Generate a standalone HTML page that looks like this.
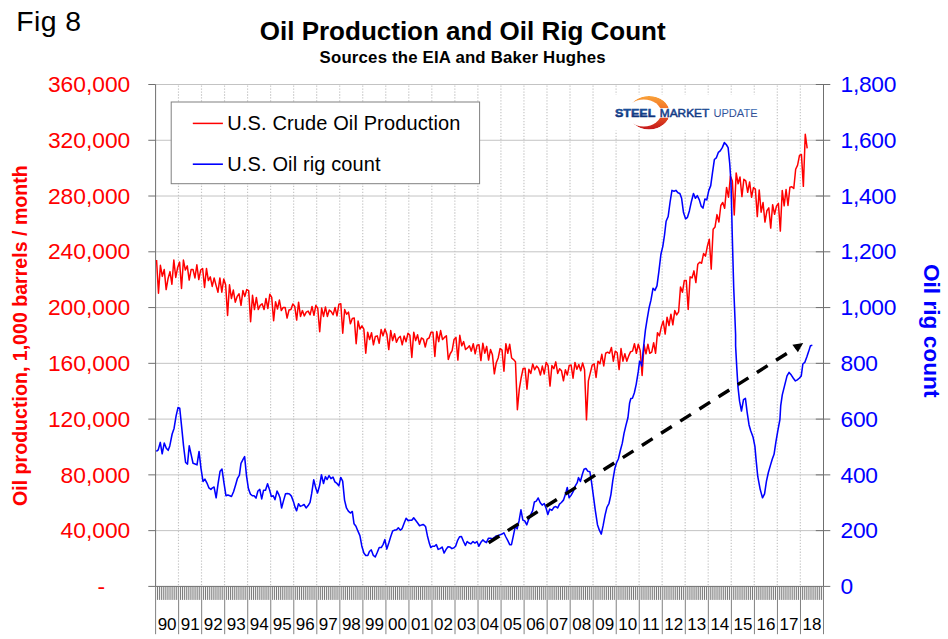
<!DOCTYPE html>
<html lang="en"><head><meta charset="utf-8"><title>Fig 8 - Oil Production and Oil Rig Count</title>
<style>
html,body{margin:0;padding:0;background:#fff;}
body{width:948px;height:639px;overflow:hidden;}
svg{display:block;}
text{font-family:"Liberation Sans",Arial,Helvetica,sans-serif;}
.b{font-weight:bold;}
</style></head><body>
<svg width="948" height="639" viewBox="0 0 948 639">
<defs>
<linearGradient id="og" x1="0" y1="0" x2="0" y2="1"><stop offset="0" stop-color="#f9a33a"/><stop offset="0.45" stop-color="#f26a22"/><stop offset="1" stop-color="#c4161c"/></linearGradient>
<linearGradient id="bg" x1="0" y1="0" x2="0" y2="1"><stop offset="0" stop-color="#1f63b5"/><stop offset="1" stop-color="#0a2466"/></linearGradient>
<mask id="cm" maskUnits="userSpaceOnUse" x="600" y="80" width="100" height="70"><rect x="600" y="80" width="100" height="70" fill="#000"/><ellipse cx="649" cy="112.7" rx="20.6" ry="16.8" fill="#fff"/><ellipse cx="643.66" cy="112.9" rx="17.48" ry="13.5" fill="#000"/><rect x="600" y="108.1" width="100" height="9.6" fill="#000"/></mask>
<linearGradient id="bg2" x1="0" y1="0" x2="0" y2="1"><stop offset="0" stop-color="#3f74bd"/><stop offset="1" stop-color="#24357c"/></linearGradient>
</defs>
<rect width="948" height="639" fill="#fff"/>

<g stroke="#c3c3c3" stroke-width="1" fill="none">
<line x1="155.6" y1="84.5" x2="823.5" y2="84.5"/>
<line x1="155.6" y1="140.27" x2="823.5" y2="140.27"/>
<line x1="155.6" y1="196.03" x2="823.5" y2="196.03"/>
<line x1="155.6" y1="251.8" x2="823.5" y2="251.8"/>
<line x1="155.6" y1="307.57" x2="823.5" y2="307.57"/>
<line x1="155.6" y1="363.33" x2="823.5" y2="363.33"/>
<line x1="155.6" y1="419.1" x2="823.5" y2="419.1"/>
<line x1="155.6" y1="474.87" x2="823.5" y2="474.87"/>
<line x1="155.6" y1="530.63" x2="823.5" y2="530.63"/>
</g>
<g stroke="#c4c4c4" stroke-width="1.15" stroke-dasharray="1.3 1.65" fill="none">
<line x1="178.48" y1="85.5" x2="178.48" y2="585.4"/>
<line x1="201.51" y1="85.5" x2="201.51" y2="585.4"/>
<line x1="224.54" y1="85.5" x2="224.54" y2="585.4"/>
<line x1="247.57" y1="85.5" x2="247.57" y2="585.4"/>
<line x1="270.61" y1="85.5" x2="270.61" y2="585.4"/>
<line x1="293.64" y1="85.5" x2="293.64" y2="585.4"/>
<line x1="316.67" y1="85.5" x2="316.67" y2="585.4"/>
<line x1="339.7" y1="85.5" x2="339.7" y2="585.4"/>
<line x1="362.73" y1="85.5" x2="362.73" y2="585.4"/>
<line x1="385.76" y1="85.5" x2="385.76" y2="585.4"/>
<line x1="408.79" y1="85.5" x2="408.79" y2="585.4"/>
<line x1="431.82" y1="85.5" x2="431.82" y2="585.4"/>
<line x1="454.85" y1="85.5" x2="454.85" y2="585.4"/>
<line x1="477.88" y1="85.5" x2="477.88" y2="585.4"/>
<line x1="500.92" y1="85.5" x2="500.92" y2="585.4"/>
<line x1="523.95" y1="85.5" x2="523.95" y2="585.4"/>
<line x1="546.98" y1="85.5" x2="546.98" y2="585.4"/>
<line x1="570.01" y1="85.5" x2="570.01" y2="585.4"/>
<line x1="593.04" y1="85.5" x2="593.04" y2="585.4"/>
<line x1="616.07" y1="85.5" x2="616.07" y2="585.4"/>
<line x1="639.1" y1="85.5" x2="639.1" y2="585.4"/>
<line x1="662.13" y1="85.5" x2="662.13" y2="585.4"/>
<line x1="685.16" y1="85.5" x2="685.16" y2="585.4"/>
<line x1="708.19" y1="85.5" x2="708.19" y2="585.4"/>
<line x1="731.23" y1="85.5" x2="731.23" y2="585.4"/>
<line x1="754.26" y1="85.5" x2="754.26" y2="585.4"/>
<line x1="777.29" y1="85.5" x2="777.29" y2="585.4"/>
<line x1="800.32" y1="85.5" x2="800.32" y2="585.4"/>
</g>
<rect x="611" y="94.5" width="152" height="36" fill="#fff"/>
<g stroke="#6f6f6f" stroke-width="1" fill="none">
<line x1="155.6" y1="84.5" x2="155.6" y2="586.4"/>
<line x1="823.5" y1="84.5" x2="823.5" y2="586.4"/>
<line x1="148.3" y1="586.4" x2="830.3" y2="586.4"/>
<line x1="148.3" y1="84.5" x2="155.6" y2="84.5"/>
<line x1="815.8" y1="84.5" x2="830.3" y2="84.5"/>
<line x1="148.3" y1="140.27" x2="155.6" y2="140.27"/>
<line x1="815.8" y1="140.27" x2="830.3" y2="140.27"/>
<line x1="148.3" y1="196.03" x2="155.6" y2="196.03"/>
<line x1="815.8" y1="196.03" x2="830.3" y2="196.03"/>
<line x1="148.3" y1="251.8" x2="155.6" y2="251.8"/>
<line x1="815.8" y1="251.8" x2="830.3" y2="251.8"/>
<line x1="148.3" y1="307.57" x2="155.6" y2="307.57"/>
<line x1="815.8" y1="307.57" x2="830.3" y2="307.57"/>
<line x1="148.3" y1="363.33" x2="155.6" y2="363.33"/>
<line x1="815.8" y1="363.33" x2="830.3" y2="363.33"/>
<line x1="148.3" y1="419.1" x2="155.6" y2="419.1"/>
<line x1="815.8" y1="419.1" x2="830.3" y2="419.1"/>
<line x1="148.3" y1="474.87" x2="155.6" y2="474.87"/>
<line x1="815.8" y1="474.87" x2="830.3" y2="474.87"/>
<line x1="148.3" y1="530.63" x2="155.6" y2="530.63"/>
<line x1="815.8" y1="530.63" x2="830.3" y2="530.63"/>
</g>
<g stroke="#737373" stroke-width="0.95" fill="none">
<line x1="157.52" y1="586.4" x2="157.52" y2="599.9"/>
<line x1="159.44" y1="586.4" x2="159.44" y2="599.9"/>
<line x1="161.36" y1="586.4" x2="161.36" y2="599.9"/>
<line x1="163.28" y1="586.4" x2="163.28" y2="599.9"/>
<line x1="165.2" y1="586.4" x2="165.2" y2="599.9"/>
<line x1="167.12" y1="586.4" x2="167.12" y2="599.9"/>
<line x1="169.03" y1="586.4" x2="169.03" y2="599.9"/>
<line x1="170.95" y1="586.4" x2="170.95" y2="599.9"/>
<line x1="172.87" y1="586.4" x2="172.87" y2="599.9"/>
<line x1="174.79" y1="586.4" x2="174.79" y2="599.9"/>
<line x1="176.71" y1="586.4" x2="176.71" y2="599.9"/>
<line x1="180.55" y1="586.4" x2="180.55" y2="599.9"/>
<line x1="182.47" y1="586.4" x2="182.47" y2="599.9"/>
<line x1="184.39" y1="586.4" x2="184.39" y2="599.9"/>
<line x1="186.31" y1="586.4" x2="186.31" y2="599.9"/>
<line x1="188.23" y1="586.4" x2="188.23" y2="599.9"/>
<line x1="190.15" y1="586.4" x2="190.15" y2="599.9"/>
<line x1="192.07" y1="586.4" x2="192.07" y2="599.9"/>
<line x1="193.99" y1="586.4" x2="193.99" y2="599.9"/>
<line x1="195.9" y1="586.4" x2="195.9" y2="599.9"/>
<line x1="197.82" y1="586.4" x2="197.82" y2="599.9"/>
<line x1="199.74" y1="586.4" x2="199.74" y2="599.9"/>
<line x1="203.58" y1="586.4" x2="203.58" y2="599.9"/>
<line x1="205.5" y1="586.4" x2="205.5" y2="599.9"/>
<line x1="207.42" y1="586.4" x2="207.42" y2="599.9"/>
<line x1="209.34" y1="586.4" x2="209.34" y2="599.9"/>
<line x1="211.26" y1="586.4" x2="211.26" y2="599.9"/>
<line x1="213.18" y1="586.4" x2="213.18" y2="599.9"/>
<line x1="215.1" y1="586.4" x2="215.1" y2="599.9"/>
<line x1="217.02" y1="586.4" x2="217.02" y2="599.9"/>
<line x1="218.94" y1="586.4" x2="218.94" y2="599.9"/>
<line x1="220.85" y1="586.4" x2="220.85" y2="599.9"/>
<line x1="222.77" y1="586.4" x2="222.77" y2="599.9"/>
<line x1="226.61" y1="586.4" x2="226.61" y2="599.9"/>
<line x1="228.53" y1="586.4" x2="228.53" y2="599.9"/>
<line x1="230.45" y1="586.4" x2="230.45" y2="599.9"/>
<line x1="232.37" y1="586.4" x2="232.37" y2="599.9"/>
<line x1="234.29" y1="586.4" x2="234.29" y2="599.9"/>
<line x1="236.21" y1="586.4" x2="236.21" y2="599.9"/>
<line x1="238.13" y1="586.4" x2="238.13" y2="599.9"/>
<line x1="240.05" y1="586.4" x2="240.05" y2="599.9"/>
<line x1="241.97" y1="586.4" x2="241.97" y2="599.9"/>
<line x1="243.89" y1="586.4" x2="243.89" y2="599.9"/>
<line x1="245.8" y1="586.4" x2="245.8" y2="599.9"/>
<line x1="249.64" y1="586.4" x2="249.64" y2="599.9"/>
<line x1="251.56" y1="586.4" x2="251.56" y2="599.9"/>
<line x1="253.48" y1="586.4" x2="253.48" y2="599.9"/>
<line x1="255.4" y1="586.4" x2="255.4" y2="599.9"/>
<line x1="257.32" y1="586.4" x2="257.32" y2="599.9"/>
<line x1="259.24" y1="586.4" x2="259.24" y2="599.9"/>
<line x1="261.16" y1="586.4" x2="261.16" y2="599.9"/>
<line x1="263.08" y1="586.4" x2="263.08" y2="599.9"/>
<line x1="265" y1="586.4" x2="265" y2="599.9"/>
<line x1="266.92" y1="586.4" x2="266.92" y2="599.9"/>
<line x1="268.84" y1="586.4" x2="268.84" y2="599.9"/>
<line x1="272.67" y1="586.4" x2="272.67" y2="599.9"/>
<line x1="274.59" y1="586.4" x2="274.59" y2="599.9"/>
<line x1="276.51" y1="586.4" x2="276.51" y2="599.9"/>
<line x1="278.43" y1="586.4" x2="278.43" y2="599.9"/>
<line x1="280.35" y1="586.4" x2="280.35" y2="599.9"/>
<line x1="282.27" y1="586.4" x2="282.27" y2="599.9"/>
<line x1="284.19" y1="586.4" x2="284.19" y2="599.9"/>
<line x1="286.11" y1="586.4" x2="286.11" y2="599.9"/>
<line x1="288.03" y1="586.4" x2="288.03" y2="599.9"/>
<line x1="289.95" y1="586.4" x2="289.95" y2="599.9"/>
<line x1="291.87" y1="586.4" x2="291.87" y2="599.9"/>
<line x1="295.71" y1="586.4" x2="295.71" y2="599.9"/>
<line x1="297.62" y1="586.4" x2="297.62" y2="599.9"/>
<line x1="299.54" y1="586.4" x2="299.54" y2="599.9"/>
<line x1="301.46" y1="586.4" x2="301.46" y2="599.9"/>
<line x1="303.38" y1="586.4" x2="303.38" y2="599.9"/>
<line x1="305.3" y1="586.4" x2="305.3" y2="599.9"/>
<line x1="307.22" y1="586.4" x2="307.22" y2="599.9"/>
<line x1="309.14" y1="586.4" x2="309.14" y2="599.9"/>
<line x1="311.06" y1="586.4" x2="311.06" y2="599.9"/>
<line x1="312.98" y1="586.4" x2="312.98" y2="599.9"/>
<line x1="314.9" y1="586.4" x2="314.9" y2="599.9"/>
<line x1="318.74" y1="586.4" x2="318.74" y2="599.9"/>
<line x1="320.66" y1="586.4" x2="320.66" y2="599.9"/>
<line x1="322.57" y1="586.4" x2="322.57" y2="599.9"/>
<line x1="324.49" y1="586.4" x2="324.49" y2="599.9"/>
<line x1="326.41" y1="586.4" x2="326.41" y2="599.9"/>
<line x1="328.33" y1="586.4" x2="328.33" y2="599.9"/>
<line x1="330.25" y1="586.4" x2="330.25" y2="599.9"/>
<line x1="332.17" y1="586.4" x2="332.17" y2="599.9"/>
<line x1="334.09" y1="586.4" x2="334.09" y2="599.9"/>
<line x1="336.01" y1="586.4" x2="336.01" y2="599.9"/>
<line x1="337.93" y1="586.4" x2="337.93" y2="599.9"/>
<line x1="341.77" y1="586.4" x2="341.77" y2="599.9"/>
<line x1="343.69" y1="586.4" x2="343.69" y2="599.9"/>
<line x1="345.61" y1="586.4" x2="345.61" y2="599.9"/>
<line x1="347.53" y1="586.4" x2="347.53" y2="599.9"/>
<line x1="349.44" y1="586.4" x2="349.44" y2="599.9"/>
<line x1="351.36" y1="586.4" x2="351.36" y2="599.9"/>
<line x1="353.28" y1="586.4" x2="353.28" y2="599.9"/>
<line x1="355.2" y1="586.4" x2="355.2" y2="599.9"/>
<line x1="357.12" y1="586.4" x2="357.12" y2="599.9"/>
<line x1="359.04" y1="586.4" x2="359.04" y2="599.9"/>
<line x1="360.96" y1="586.4" x2="360.96" y2="599.9"/>
<line x1="364.8" y1="586.4" x2="364.8" y2="599.9"/>
<line x1="366.72" y1="586.4" x2="366.72" y2="599.9"/>
<line x1="368.64" y1="586.4" x2="368.64" y2="599.9"/>
<line x1="370.56" y1="586.4" x2="370.56" y2="599.9"/>
<line x1="372.48" y1="586.4" x2="372.48" y2="599.9"/>
<line x1="374.39" y1="586.4" x2="374.39" y2="599.9"/>
<line x1="376.31" y1="586.4" x2="376.31" y2="599.9"/>
<line x1="378.23" y1="586.4" x2="378.23" y2="599.9"/>
<line x1="380.15" y1="586.4" x2="380.15" y2="599.9"/>
<line x1="382.07" y1="586.4" x2="382.07" y2="599.9"/>
<line x1="383.99" y1="586.4" x2="383.99" y2="599.9"/>
<line x1="387.83" y1="586.4" x2="387.83" y2="599.9"/>
<line x1="389.75" y1="586.4" x2="389.75" y2="599.9"/>
<line x1="391.67" y1="586.4" x2="391.67" y2="599.9"/>
<line x1="393.59" y1="586.4" x2="393.59" y2="599.9"/>
<line x1="395.51" y1="586.4" x2="395.51" y2="599.9"/>
<line x1="397.43" y1="586.4" x2="397.43" y2="599.9"/>
<line x1="399.35" y1="586.4" x2="399.35" y2="599.9"/>
<line x1="401.26" y1="586.4" x2="401.26" y2="599.9"/>
<line x1="403.18" y1="586.4" x2="403.18" y2="599.9"/>
<line x1="405.1" y1="586.4" x2="405.1" y2="599.9"/>
<line x1="407.02" y1="586.4" x2="407.02" y2="599.9"/>
<line x1="410.86" y1="586.4" x2="410.86" y2="599.9"/>
<line x1="412.78" y1="586.4" x2="412.78" y2="599.9"/>
<line x1="414.7" y1="586.4" x2="414.7" y2="599.9"/>
<line x1="416.62" y1="586.4" x2="416.62" y2="599.9"/>
<line x1="418.54" y1="586.4" x2="418.54" y2="599.9"/>
<line x1="420.46" y1="586.4" x2="420.46" y2="599.9"/>
<line x1="422.38" y1="586.4" x2="422.38" y2="599.9"/>
<line x1="424.3" y1="586.4" x2="424.3" y2="599.9"/>
<line x1="426.21" y1="586.4" x2="426.21" y2="599.9"/>
<line x1="428.13" y1="586.4" x2="428.13" y2="599.9"/>
<line x1="430.05" y1="586.4" x2="430.05" y2="599.9"/>
<line x1="433.89" y1="586.4" x2="433.89" y2="599.9"/>
<line x1="435.81" y1="586.4" x2="435.81" y2="599.9"/>
<line x1="437.73" y1="586.4" x2="437.73" y2="599.9"/>
<line x1="439.65" y1="586.4" x2="439.65" y2="599.9"/>
<line x1="441.57" y1="586.4" x2="441.57" y2="599.9"/>
<line x1="443.49" y1="586.4" x2="443.49" y2="599.9"/>
<line x1="445.41" y1="586.4" x2="445.41" y2="599.9"/>
<line x1="447.33" y1="586.4" x2="447.33" y2="599.9"/>
<line x1="449.25" y1="586.4" x2="449.25" y2="599.9"/>
<line x1="451.16" y1="586.4" x2="451.16" y2="599.9"/>
<line x1="453.08" y1="586.4" x2="453.08" y2="599.9"/>
<line x1="456.92" y1="586.4" x2="456.92" y2="599.9"/>
<line x1="458.84" y1="586.4" x2="458.84" y2="599.9"/>
<line x1="460.76" y1="586.4" x2="460.76" y2="599.9"/>
<line x1="462.68" y1="586.4" x2="462.68" y2="599.9"/>
<line x1="464.6" y1="586.4" x2="464.6" y2="599.9"/>
<line x1="466.52" y1="586.4" x2="466.52" y2="599.9"/>
<line x1="468.44" y1="586.4" x2="468.44" y2="599.9"/>
<line x1="470.36" y1="586.4" x2="470.36" y2="599.9"/>
<line x1="472.28" y1="586.4" x2="472.28" y2="599.9"/>
<line x1="474.2" y1="586.4" x2="474.2" y2="599.9"/>
<line x1="476.12" y1="586.4" x2="476.12" y2="599.9"/>
<line x1="479.95" y1="586.4" x2="479.95" y2="599.9"/>
<line x1="481.87" y1="586.4" x2="481.87" y2="599.9"/>
<line x1="483.79" y1="586.4" x2="483.79" y2="599.9"/>
<line x1="485.71" y1="586.4" x2="485.71" y2="599.9"/>
<line x1="487.63" y1="586.4" x2="487.63" y2="599.9"/>
<line x1="489.55" y1="586.4" x2="489.55" y2="599.9"/>
<line x1="491.47" y1="586.4" x2="491.47" y2="599.9"/>
<line x1="493.39" y1="586.4" x2="493.39" y2="599.9"/>
<line x1="495.31" y1="586.4" x2="495.31" y2="599.9"/>
<line x1="497.23" y1="586.4" x2="497.23" y2="599.9"/>
<line x1="499.15" y1="586.4" x2="499.15" y2="599.9"/>
<line x1="502.98" y1="586.4" x2="502.98" y2="599.9"/>
<line x1="504.9" y1="586.4" x2="504.9" y2="599.9"/>
<line x1="506.82" y1="586.4" x2="506.82" y2="599.9"/>
<line x1="508.74" y1="586.4" x2="508.74" y2="599.9"/>
<line x1="510.66" y1="586.4" x2="510.66" y2="599.9"/>
<line x1="512.58" y1="586.4" x2="512.58" y2="599.9"/>
<line x1="514.5" y1="586.4" x2="514.5" y2="599.9"/>
<line x1="516.42" y1="586.4" x2="516.42" y2="599.9"/>
<line x1="518.34" y1="586.4" x2="518.34" y2="599.9"/>
<line x1="520.26" y1="586.4" x2="520.26" y2="599.9"/>
<line x1="522.18" y1="586.4" x2="522.18" y2="599.9"/>
<line x1="526.02" y1="586.4" x2="526.02" y2="599.9"/>
<line x1="527.94" y1="586.4" x2="527.94" y2="599.9"/>
<line x1="529.85" y1="586.4" x2="529.85" y2="599.9"/>
<line x1="531.77" y1="586.4" x2="531.77" y2="599.9"/>
<line x1="533.69" y1="586.4" x2="533.69" y2="599.9"/>
<line x1="535.61" y1="586.4" x2="535.61" y2="599.9"/>
<line x1="537.53" y1="586.4" x2="537.53" y2="599.9"/>
<line x1="539.45" y1="586.4" x2="539.45" y2="599.9"/>
<line x1="541.37" y1="586.4" x2="541.37" y2="599.9"/>
<line x1="543.29" y1="586.4" x2="543.29" y2="599.9"/>
<line x1="545.21" y1="586.4" x2="545.21" y2="599.9"/>
<line x1="549.05" y1="586.4" x2="549.05" y2="599.9"/>
<line x1="550.97" y1="586.4" x2="550.97" y2="599.9"/>
<line x1="552.89" y1="586.4" x2="552.89" y2="599.9"/>
<line x1="554.8" y1="586.4" x2="554.8" y2="599.9"/>
<line x1="556.72" y1="586.4" x2="556.72" y2="599.9"/>
<line x1="558.64" y1="586.4" x2="558.64" y2="599.9"/>
<line x1="560.56" y1="586.4" x2="560.56" y2="599.9"/>
<line x1="562.48" y1="586.4" x2="562.48" y2="599.9"/>
<line x1="564.4" y1="586.4" x2="564.4" y2="599.9"/>
<line x1="566.32" y1="586.4" x2="566.32" y2="599.9"/>
<line x1="568.24" y1="586.4" x2="568.24" y2="599.9"/>
<line x1="572.08" y1="586.4" x2="572.08" y2="599.9"/>
<line x1="574" y1="586.4" x2="574" y2="599.9"/>
<line x1="575.92" y1="586.4" x2="575.92" y2="599.9"/>
<line x1="577.84" y1="586.4" x2="577.84" y2="599.9"/>
<line x1="579.75" y1="586.4" x2="579.75" y2="599.9"/>
<line x1="581.67" y1="586.4" x2="581.67" y2="599.9"/>
<line x1="583.59" y1="586.4" x2="583.59" y2="599.9"/>
<line x1="585.51" y1="586.4" x2="585.51" y2="599.9"/>
<line x1="587.43" y1="586.4" x2="587.43" y2="599.9"/>
<line x1="589.35" y1="586.4" x2="589.35" y2="599.9"/>
<line x1="591.27" y1="586.4" x2="591.27" y2="599.9"/>
<line x1="595.11" y1="586.4" x2="595.11" y2="599.9"/>
<line x1="597.03" y1="586.4" x2="597.03" y2="599.9"/>
<line x1="598.95" y1="586.4" x2="598.95" y2="599.9"/>
<line x1="600.87" y1="586.4" x2="600.87" y2="599.9"/>
<line x1="602.79" y1="586.4" x2="602.79" y2="599.9"/>
<line x1="604.71" y1="586.4" x2="604.71" y2="599.9"/>
<line x1="606.62" y1="586.4" x2="606.62" y2="599.9"/>
<line x1="608.54" y1="586.4" x2="608.54" y2="599.9"/>
<line x1="610.46" y1="586.4" x2="610.46" y2="599.9"/>
<line x1="612.38" y1="586.4" x2="612.38" y2="599.9"/>
<line x1="614.3" y1="586.4" x2="614.3" y2="599.9"/>
<line x1="618.14" y1="586.4" x2="618.14" y2="599.9"/>
<line x1="620.06" y1="586.4" x2="620.06" y2="599.9"/>
<line x1="621.98" y1="586.4" x2="621.98" y2="599.9"/>
<line x1="623.9" y1="586.4" x2="623.9" y2="599.9"/>
<line x1="625.82" y1="586.4" x2="625.82" y2="599.9"/>
<line x1="627.74" y1="586.4" x2="627.74" y2="599.9"/>
<line x1="629.66" y1="586.4" x2="629.66" y2="599.9"/>
<line x1="631.57" y1="586.4" x2="631.57" y2="599.9"/>
<line x1="633.49" y1="586.4" x2="633.49" y2="599.9"/>
<line x1="635.41" y1="586.4" x2="635.41" y2="599.9"/>
<line x1="637.33" y1="586.4" x2="637.33" y2="599.9"/>
<line x1="641.17" y1="586.4" x2="641.17" y2="599.9"/>
<line x1="643.09" y1="586.4" x2="643.09" y2="599.9"/>
<line x1="645.01" y1="586.4" x2="645.01" y2="599.9"/>
<line x1="646.93" y1="586.4" x2="646.93" y2="599.9"/>
<line x1="648.85" y1="586.4" x2="648.85" y2="599.9"/>
<line x1="650.77" y1="586.4" x2="650.77" y2="599.9"/>
<line x1="652.69" y1="586.4" x2="652.69" y2="599.9"/>
<line x1="654.61" y1="586.4" x2="654.61" y2="599.9"/>
<line x1="656.52" y1="586.4" x2="656.52" y2="599.9"/>
<line x1="658.44" y1="586.4" x2="658.44" y2="599.9"/>
<line x1="660.36" y1="586.4" x2="660.36" y2="599.9"/>
<line x1="664.2" y1="586.4" x2="664.2" y2="599.9"/>
<line x1="666.12" y1="586.4" x2="666.12" y2="599.9"/>
<line x1="668.04" y1="586.4" x2="668.04" y2="599.9"/>
<line x1="669.96" y1="586.4" x2="669.96" y2="599.9"/>
<line x1="671.88" y1="586.4" x2="671.88" y2="599.9"/>
<line x1="673.8" y1="586.4" x2="673.8" y2="599.9"/>
<line x1="675.72" y1="586.4" x2="675.72" y2="599.9"/>
<line x1="677.64" y1="586.4" x2="677.64" y2="599.9"/>
<line x1="679.56" y1="586.4" x2="679.56" y2="599.9"/>
<line x1="681.48" y1="586.4" x2="681.48" y2="599.9"/>
<line x1="683.39" y1="586.4" x2="683.39" y2="599.9"/>
<line x1="687.23" y1="586.4" x2="687.23" y2="599.9"/>
<line x1="689.15" y1="586.4" x2="689.15" y2="599.9"/>
<line x1="691.07" y1="586.4" x2="691.07" y2="599.9"/>
<line x1="692.99" y1="586.4" x2="692.99" y2="599.9"/>
<line x1="694.91" y1="586.4" x2="694.91" y2="599.9"/>
<line x1="696.83" y1="586.4" x2="696.83" y2="599.9"/>
<line x1="698.75" y1="586.4" x2="698.75" y2="599.9"/>
<line x1="700.67" y1="586.4" x2="700.67" y2="599.9"/>
<line x1="702.59" y1="586.4" x2="702.59" y2="599.9"/>
<line x1="704.51" y1="586.4" x2="704.51" y2="599.9"/>
<line x1="706.43" y1="586.4" x2="706.43" y2="599.9"/>
<line x1="710.26" y1="586.4" x2="710.26" y2="599.9"/>
<line x1="712.18" y1="586.4" x2="712.18" y2="599.9"/>
<line x1="714.1" y1="586.4" x2="714.1" y2="599.9"/>
<line x1="716.02" y1="586.4" x2="716.02" y2="599.9"/>
<line x1="717.94" y1="586.4" x2="717.94" y2="599.9"/>
<line x1="719.86" y1="586.4" x2="719.86" y2="599.9"/>
<line x1="721.78" y1="586.4" x2="721.78" y2="599.9"/>
<line x1="723.7" y1="586.4" x2="723.7" y2="599.9"/>
<line x1="725.62" y1="586.4" x2="725.62" y2="599.9"/>
<line x1="727.54" y1="586.4" x2="727.54" y2="599.9"/>
<line x1="729.46" y1="586.4" x2="729.46" y2="599.9"/>
<line x1="733.3" y1="586.4" x2="733.3" y2="599.9"/>
<line x1="735.21" y1="586.4" x2="735.21" y2="599.9"/>
<line x1="737.13" y1="586.4" x2="737.13" y2="599.9"/>
<line x1="739.05" y1="586.4" x2="739.05" y2="599.9"/>
<line x1="740.97" y1="586.4" x2="740.97" y2="599.9"/>
<line x1="742.89" y1="586.4" x2="742.89" y2="599.9"/>
<line x1="744.81" y1="586.4" x2="744.81" y2="599.9"/>
<line x1="746.73" y1="586.4" x2="746.73" y2="599.9"/>
<line x1="748.65" y1="586.4" x2="748.65" y2="599.9"/>
<line x1="750.57" y1="586.4" x2="750.57" y2="599.9"/>
<line x1="752.49" y1="586.4" x2="752.49" y2="599.9"/>
<line x1="756.33" y1="586.4" x2="756.33" y2="599.9"/>
<line x1="758.25" y1="586.4" x2="758.25" y2="599.9"/>
<line x1="760.16" y1="586.4" x2="760.16" y2="599.9"/>
<line x1="762.08" y1="586.4" x2="762.08" y2="599.9"/>
<line x1="764" y1="586.4" x2="764" y2="599.9"/>
<line x1="765.92" y1="586.4" x2="765.92" y2="599.9"/>
<line x1="767.84" y1="586.4" x2="767.84" y2="599.9"/>
<line x1="769.76" y1="586.4" x2="769.76" y2="599.9"/>
<line x1="771.68" y1="586.4" x2="771.68" y2="599.9"/>
<line x1="773.6" y1="586.4" x2="773.6" y2="599.9"/>
<line x1="775.52" y1="586.4" x2="775.52" y2="599.9"/>
<line x1="779.36" y1="586.4" x2="779.36" y2="599.9"/>
<line x1="781.28" y1="586.4" x2="781.28" y2="599.9"/>
<line x1="783.2" y1="586.4" x2="783.2" y2="599.9"/>
<line x1="785.11" y1="586.4" x2="785.11" y2="599.9"/>
<line x1="787.03" y1="586.4" x2="787.03" y2="599.9"/>
<line x1="788.95" y1="586.4" x2="788.95" y2="599.9"/>
<line x1="790.87" y1="586.4" x2="790.87" y2="599.9"/>
<line x1="792.79" y1="586.4" x2="792.79" y2="599.9"/>
<line x1="794.71" y1="586.4" x2="794.71" y2="599.9"/>
<line x1="796.63" y1="586.4" x2="796.63" y2="599.9"/>
<line x1="798.55" y1="586.4" x2="798.55" y2="599.9"/>
<line x1="802.39" y1="586.4" x2="802.39" y2="599.9"/>
<line x1="804.31" y1="586.4" x2="804.31" y2="599.9"/>
<line x1="806.23" y1="586.4" x2="806.23" y2="599.9"/>
<line x1="808.15" y1="586.4" x2="808.15" y2="599.9"/>
<line x1="810.07" y1="586.4" x2="810.07" y2="599.9"/>
<line x1="811.98" y1="586.4" x2="811.98" y2="599.9"/>
<line x1="813.9" y1="586.4" x2="813.9" y2="599.9"/>
<line x1="815.82" y1="586.4" x2="815.82" y2="599.9"/>
<line x1="817.74" y1="586.4" x2="817.74" y2="599.9"/>
<line x1="819.66" y1="586.4" x2="819.66" y2="599.9"/>
<line x1="821.58" y1="586.4" x2="821.58" y2="599.9"/>
</g>
<g stroke="#808080" stroke-width="1" fill="none">
<line x1="155.6" y1="586.4" x2="155.6" y2="634.2"/>
<line x1="178.63" y1="586.4" x2="178.63" y2="634.2"/>
<line x1="201.66" y1="586.4" x2="201.66" y2="634.2"/>
<line x1="224.69" y1="586.4" x2="224.69" y2="634.2"/>
<line x1="247.72" y1="586.4" x2="247.72" y2="634.2"/>
<line x1="270.76" y1="586.4" x2="270.76" y2="634.2"/>
<line x1="293.79" y1="586.4" x2="293.79" y2="634.2"/>
<line x1="316.82" y1="586.4" x2="316.82" y2="634.2"/>
<line x1="339.85" y1="586.4" x2="339.85" y2="634.2"/>
<line x1="362.88" y1="586.4" x2="362.88" y2="634.2"/>
<line x1="385.91" y1="586.4" x2="385.91" y2="634.2"/>
<line x1="408.94" y1="586.4" x2="408.94" y2="634.2"/>
<line x1="431.97" y1="586.4" x2="431.97" y2="634.2"/>
<line x1="455" y1="586.4" x2="455" y2="634.2"/>
<line x1="478.03" y1="586.4" x2="478.03" y2="634.2"/>
<line x1="501.07" y1="586.4" x2="501.07" y2="634.2"/>
<line x1="524.1" y1="586.4" x2="524.1" y2="634.2"/>
<line x1="547.13" y1="586.4" x2="547.13" y2="634.2"/>
<line x1="570.16" y1="586.4" x2="570.16" y2="634.2"/>
<line x1="593.19" y1="586.4" x2="593.19" y2="634.2"/>
<line x1="616.22" y1="586.4" x2="616.22" y2="634.2"/>
<line x1="639.25" y1="586.4" x2="639.25" y2="634.2"/>
<line x1="662.28" y1="586.4" x2="662.28" y2="634.2"/>
<line x1="685.31" y1="586.4" x2="685.31" y2="634.2"/>
<line x1="708.34" y1="586.4" x2="708.34" y2="634.2"/>
<line x1="731.38" y1="586.4" x2="731.38" y2="634.2"/>
<line x1="754.41" y1="586.4" x2="754.41" y2="634.2"/>
<line x1="777.44" y1="586.4" x2="777.44" y2="634.2"/>
<line x1="800.47" y1="586.4" x2="800.47" y2="634.2"/>
<line x1="823.5" y1="586.4" x2="823.5" y2="634.2"/>
</g>
<polyline fill="none" stroke="#ff0000" stroke-width="1.5" stroke-linejoin="round" points="156.56,260.02 158.48,293.25 160.4,265.3 162.32,276.37 164.24,269.51 166.16,289.56 168.08,278.48 169.99,271.62 171.91,284.28 173.83,260.02 175.75,277.43 177.67,267.41 179.59,262.13 181.51,288.5 183.43,260.02 185.35,270.04 187.27,265.82 189.19,280.06 191.11,269.51 193.03,269.51 194.94,277.95 196.86,264.77 198.78,279.54 200.7,270.04 202.62,268.46 204.54,287.45 206.46,268.46 208.38,280.59 210.3,276.9 212.22,286.39 214.14,277.95 216.06,285.34 217.98,292.19 219.89,277.95 221.81,292.19 223.73,279.01 225.65,284.81 227.57,315.4 229.49,284.81 231.41,298.52 233.33,290.08 235.25,302.22 237.17,296.41 239.09,293.78 241.01,305.38 242.93,290.61 244.85,296.41 246.76,289.56 248.68,290.57 250.6,321.69 252.52,295.32 254.44,309.56 256.36,297.43 258.28,309.56 260.2,305.34 262.12,303.76 264.04,309.56 265.96,298.48 267.88,308.5 269.8,294.26 271.71,297.43 273.63,320.63 275.55,301.65 277.47,309.03 279.39,300.06 281.31,310.61 283.23,307.45 285.15,307.45 287.07,318 288.99,310.08 290.91,309.56 292.83,303.97 294.75,306.39 296.67,320.11 298.58,302.17 300.5,316.41 302.42,310.61 304.34,315.89 306.26,312.19 308.18,311.14 310.1,314.83 312.02,306.39 313.94,315.36 315.86,305.34 317.78,308.5 319.7,331.71 321.62,307.97 323.53,316.41 325.45,306.92 327.37,316.41 329.29,310.08 331.21,311.67 333.13,314.83 335.05,307.45 336.97,315.89 338.89,304.28 340.81,303.71 342.73,333.25 344.65,309.51 346.57,314.26 348.48,312.15 350.4,323.76 352.32,318.48 354.24,317.95 356.16,343.8 358.08,321.12 360,329.03 361.92,325.86 363.84,329.03 365.76,353.29 367.68,332.19 369.6,339.58 371.52,332.72 373.44,344.85 375.35,336.41 377.27,335.89 379.19,343.27 381.11,329.56 383.03,335.89 384.95,329.03 386.87,334.3 388.79,349.6 390.71,330.61 392.63,340.63 394.55,333.78 396.47,342.22 398.39,338 400.3,336.41 402.22,344.85 404.14,335.89 406.06,341.69 407.98,333.25 409.9,335.36 411.82,357.51 413.74,332.19 415.66,340.63 417.58,334.83 419.5,344.32 421.42,338 423.34,339.05 425.26,346.96 427.17,339.05 429.09,338 431.01,332.19 432.93,332.13 434.85,356.39 436.77,331.6 438.69,341.62 440.61,330.55 442.53,339.51 444.45,337.41 446.37,335.82 448.29,359.56 450.21,353.76 452.12,350.59 454.04,339.51 455.96,337.41 457.88,360.08 459.8,335.3 461.72,345.84 463.64,341.62 465.56,349.54 467.48,347.95 469.4,345.84 471.32,351.12 473.24,343.73 475.16,353.76 477.07,345.32 478.99,344.79 480.91,360.61 482.83,343.21 484.75,353.23 486.67,346.37 488.59,360.08 490.51,349.54 492.43,354.81 494.35,373.8 496.27,362.72 498.19,357.97 500.11,348.48 502.03,350.06 503.94,371.16 505.86,343.73 507.78,353.23 509.7,344.26 511.62,357.97 513.54,359.56 515.46,361.67 517.38,409.66 519.3,389.09 521.22,377.49 523.14,368.52 525.06,368.19 526.98,389.28 528.89,369.24 530.81,373.46 532.73,363.97 534.65,369.77 536.57,366.08 538.49,368.19 540.41,375.04 542.33,366.08 544.25,373.99 546.17,362.38 548.09,365.55 550.01,386.12 551.93,365.55 553.84,368.71 555.76,361.86 557.68,373.46 559.6,368.71 561.52,370.82 563.44,380.84 565.36,369.77 567.28,375.04 569.2,365.55 571.12,365.02 573.04,378.21 574.96,362.38 576.88,369.24 578.8,364.49 580.71,370.82 582.63,362.91 584.55,369.77 586.47,419.87 588.39,380.84 590.31,372.93 592.23,365.02 594.15,363.8 596.07,377.51 597.99,361.16 599.91,363.8 601.83,354.3 603.75,365.91 605.66,353.25 607.58,352.19 609.5,353.25 611.42,347.45 613.34,361.16 615.26,351.14 617.18,352.72 619.1,369.6 621.02,348.5 622.94,361.16 624.86,353.78 626.78,361.16 628.7,355.89 630.62,351.67 632.53,351.14 634.45,343.76 636.37,353.25 638.29,344.28 640.21,350.61 642.13,375.4 644.05,344.81 645.97,353.78 647.89,344.28 649.81,353.25 651.73,352.19 653.65,342.7 655.57,353.25 657.48,332.68 659.4,335.84 661.32,326.88 663.24,320.99 665.16,334.07 667.08,317.14 669,325.54 670.92,314.16 672.84,324.83 674.76,310.58 676.68,314.85 678.6,311.94 680.52,286.93 682.43,292.33 684.35,280.45 686.27,280.49 688.19,309.47 690.11,276.82 692.03,277.94 693.95,270.86 695.87,282.58 697.79,264.2 699.71,262.17 701.63,263.22 703.55,253.53 705.47,256.11 707.39,246.14 709.3,239.22 711.22,269.11 713.14,229.32 715.06,226.96 716.98,214.63 718.9,221.94 720.82,205.47 722.74,202.48 724.66,208.26 726.58,187.4 728.5,197.22 730.42,175.99 732.34,181.05 734.25,214.89 736.17,172.97 738.09,183.75 740.01,177.03 741.93,196.59 743.85,179.36 745.77,180.83 747.69,192.28 749.61,181.96 751.53,197.26 753.45,187.7 755.37,189.04 757.29,216.58 759.21,189.91 761.12,212.19 763.04,202.53 764.96,222.06 766.88,210.78 768.8,207.84 770.72,228.09 772.64,204.65 774.56,214.24 776.48,206.16 778.4,203.35 780.32,231.09 782.24,190.43 784.16,205.79 786.07,189.52 787.99,205.46 789.91,187.27 791.83,186.71 793.75,188.56 795.67,169.21 797.59,165.18 799.51,155.38 801.43,154.42 803.35,186.35 805.27,134.28 807.19,148.28"/>
<polyline fill="none" stroke="#0000ff" stroke-width="1.55" stroke-linejoin="round" points="156.33,451.42 158.23,449.84 160.28,442.41 162.18,453.8 164.24,443.04 166.3,448.26 168.2,450.32 169.78,445.89 172.15,434.02 174.05,428.48 176.11,415.82 178.01,407.59 179.75,408.23 181.65,426.9 183.54,445.89 185.6,462.5 187.5,464.08 189.24,445.89 191.14,454.59 193.04,463.29 195.09,464.08 196.99,464.87 199.05,451.42 200.95,468.04 203.01,481.49 204.91,479.11 206.96,483.07 208.86,487.82 210.92,489.4 212.5,487.82 214.08,487.03 216.14,497.78 218.04,483.86 220.09,471.2 221.99,469.15 223.89,482.28 225.95,495.73 227.85,494.94 229.91,495.73 231.49,496.52 233.54,491.77 235.44,485.44 237.5,478.32 239.4,475.16 240.98,463.29 243.04,459.34 244.62,456.65 246.52,475.95 248.42,488.61 250.47,494.15 252.37,495.73 254.11,495.73 256.01,498.1 257.91,490.98 259.81,489.4 261.71,498.89 263.61,490.19 265.51,490.19 267.56,483.86 269.46,489.4 271.36,496.52 273.26,495.73 275,499.68 277.06,490.98 278.96,494.94 280,497.69 281.58,507.97 283.48,500.85 285.54,493.73 287.44,493.42 289.49,494.05 291.39,496.11 293.45,501.65 295.03,507.18 296.61,510.82 298.51,503.7 300.25,506.39 302.15,505.6 304.05,504.49 306.11,507.97 308.16,505.6 310.06,502.44 311.65,493.73 313.7,479.81 315.6,487.41 317.5,492.94 319.56,485.82 321.46,474.75 323.51,483.45 325.41,476.65 327.15,479.49 329.05,475.54 330.95,478.7 333.01,477.12 334.91,481.87 336.96,483.45 338.86,485.82 340.76,477.44 342.66,481.08 344.56,500.06 346.46,507.97 348.35,511.14 350.41,513.04 352.31,511.46 354.05,523.8 355.95,526.17 357.85,530.92 359.91,535.66 361.8,545.95 363.86,553.07 365.76,555.44 367.82,555.44 369.4,551.49 371.3,549.91 373.35,555.44 375.25,557.03 377.31,552.28 379.21,547.53 381.27,547.53 383.16,544.37 384.91,539.62 386.8,549.11 388.86,542.78 390.76,536.46 392.66,530.92 394.56,530.13 396.61,529.81 398.35,527.75 400.25,530.13 402.15,528.54 404.21,523.01 406.11,518.26 408.16,520.63 410.06,520.32 411.8,520.32 413.7,517.78 415.6,520.32 417.66,523.01 419.56,525.7 421.9,524.87 423.48,524.56 425.54,526.46 427.44,535.95 429.49,543.86 430.76,547.5 432.66,546.23 434.56,546.23 436.3,544.65 438.2,549.4 440.09,548.61 442.15,547.03 444.05,553.04 446.11,549.4 448.01,546.71 450.06,547.03 451.96,548.61 454.02,547.82 455.6,546.23 457.5,540.7 459.56,536.74 461.46,536.42 463.51,541.49 465.41,545.44 467.15,541.49 469.05,543.07 470.95,543.86 473.01,541.49 474.91,543.07 476.96,541.49 478.86,546.23 480.92,542.28 482.82,539.91 484.56,541.49 486.46,542.59 488.35,538.32 490.41,538.32 492.31,538.8 494.37,537.53 496.27,535.95 498.32,535.63 500.22,534.68 501.96,534.05 503.86,532.78 505.76,536.74 507.82,540.7 509.72,544.65 511.46,544.65 513.35,535.95 515.25,526.46 517.15,528.83 519.05,520.92 520.95,509.84 522.85,520.13 524.75,520.92 526.8,524.87 528.7,519.34 530.76,514.59 532.66,510.63 534.4,501.93 536.3,501.14 538.2,497.97 540.25,502.72 542.15,505.09 544.21,503.51 546.11,508.26 547.85,514.59 549.75,509.05 551.9,510.41 553.96,507.25 555.85,506.46 557.59,508.04 559.49,504.08 561.39,502.5 563.45,500.13 565.35,494.59 567.25,487.47 569.15,497.75 571.04,495.38 573.26,491.42 575.32,485.89 577.22,482.72 578.48,477.66 580.38,481.46 582.44,474.02 584.02,469.27 585.92,468.48 587.97,471.33 589.87,471.65 591.61,482.72 593.51,496.96 595.41,511.2 597.47,524.65 599.37,530.19 601.27,534.15 603.16,525.44 605.06,515.16 606.96,507.25 609.02,503.29 610.92,494.59 612.82,480.35 614.87,468.48 616.46,462.94 618.35,458.99 620.41,450.28 622.31,443.16 624.02,433.35 625.92,425.44 627.97,417.53 629.56,403.29 630.82,398.54 632.41,398.23 634.3,393.01 636.2,384.3 638.26,371.65 639.6,361.2 640.79,362.63 641.74,365.95 642.53,357.41 643.32,349.49 644.3,340 645.41,330.19 647.15,319.11 649.05,308.04 650.95,300.13 653.01,288.26 654.91,290.32 656.96,285.89 658.86,271.65 660.92,254.24 662.82,246.33 664.53,235 666.11,221.23 668.16,216.49 670.06,202.25 671.96,190.38 674.02,191.17 675.92,190.38 677.97,192.75 679.87,193.54 681.61,198.29 683.51,212.53 685.57,218.86 687.47,217.28 689.37,210.95 691.42,201.46 693.48,193.54 695.38,198.29 697.28,195.6 699.34,199.87 701.23,206.2 702.97,208.1 704.87,199.08 706.77,199.87 708.83,190.38 710.73,185.63 712.47,172.97 714.37,159.53 716.27,157.94 718.32,152.41 720.22,150.82 722.28,147.66 724.34,142.59 726.23,144.49 728.13,147.66 729.72,163.48 730.98,182.47 731.77,214.11 732.25,235 733.7,287.47 734.49,306.46 735.6,334.94 735.6,345.82 736.71,366.39 737.97,386.96 739.56,401.2 741.46,411.01 743.51,399.62 745.41,398.35 747.15,412.28 749.05,424.94 750.63,430.57 753.01,436.9 754.91,446.39 756.17,460.63 757.75,476.46 760.13,489.11 762.5,497.82 764.56,493.86 766.46,481.2 768.35,472.5 770.41,465.38 772.31,459.05 774.05,454.3 775.95,441.65 777.85,430.57 779.91,419.49 780.7,405.95 782.28,394.87 784.65,385.38 787.03,375.89 789.08,372.41 791.3,375.09 793.35,378.26 795.41,380.95 797.31,379.84 799.21,378.26 801.27,375.89 802.85,364.02 804.75,362.44 806.8,356.9 808.7,351.36 810.44,345.82 812.34,345.35"/>
<line x1="488.6" y1="542.8" x2="797" y2="347" stroke="#000" stroke-width="3.4" stroke-dasharray="12.7 10"/>
<polygon points="803.2,343 792.4,344.7 797.9,352.3" fill="#000"/>
<rect x="171.2" y="102" width="308.4" height="81.7" fill="#fff" stroke="#808080" stroke-width="1"/>
<line x1="192.8" y1="123.4" x2="222.9" y2="123.4" stroke="#ff0000" stroke-width="1.5"/>
<line x1="192.8" y1="164.2" x2="222.9" y2="164.2" stroke="#0000ff" stroke-width="1.6"/>
<text x="227.3" y="130" font-size="20" letter-spacing="0.125" fill="#000">U.S. Crude Oil Production</text>
<text x="227.3" y="170.7" font-size="20" letter-spacing="0.125" fill="#000">U.S. Oil rig count</text>
<g>
<g mask="url(#cm)"><ellipse cx="649" cy="112.7" rx="20.6" ry="16.8" fill="url(#og)"/></g>
<text x="615" y="116.5" font-size="10.2" class="b" fill="url(#bg)" textLength="40.4" lengthAdjust="spacingAndGlyphs" style="font-weight:bold" stroke="#123a86" stroke-width="0.45">STEEL</text>
<text x="659.8" y="116.5" font-size="10.2" fill="url(#bg)" textLength="49.4" lengthAdjust="spacingAndGlyphs" stroke="#123a86" stroke-width="0.45">MARKET</text>
<text x="713.4" y="116.5" font-size="10.2" fill="url(#bg2)" textLength="44.2" lengthAdjust="spacingAndGlyphs">UPDATE</text>
</g>
<text x="16.3" y="30.6" font-size="28.4" letter-spacing="0.4" fill="#000">Fig 8</text>
<text x="462.7" y="39.6" font-size="26" class="b" text-anchor="middle" fill="#000">Oil Production and Oil Rig Count</text>
<text x="462.7" y="63.3" font-size="16.8" letter-spacing="0.19" class="b" text-anchor="middle" fill="#000">Sources the EIA and Baker Hughes</text>
<g font-size="22.8" fill="#ff0000" text-anchor="end">
<text x="130.3" y="92.16">360,000</text>
<text x="130.3" y="147.93">320,000</text>
<text x="130.3" y="203.7">280,000</text>
<text x="130.3" y="259.46">240,000</text>
<text x="130.3" y="315.23">200,000</text>
<text x="130.3" y="371">160,000</text>
<text x="130.3" y="426.76">120,000</text>
<text x="130.3" y="482.53">80,000</text>
<text x="130.3" y="538.3">40,000</text>
<text x="105.2" y="593.76">-</text>
</g>
<g font-size="22.8" fill="#0000ff" letter-spacing="-0.3">
<text x="840.5" y="92.16">1,800</text>
<text x="840.5" y="147.93">1,600</text>
<text x="840.5" y="203.7">1,400</text>
<text x="840.5" y="259.46">1,200</text>
<text x="840.5" y="315.23">1,000</text>
<text x="840.5" y="371">800</text>
<text x="840.5" y="426.76">600</text>
<text x="840.5" y="482.53">400</text>
<text x="840.5" y="538.3">200</text>
<text x="840.5" y="594.06">0</text>
</g>
<g font-size="17" fill="#000" text-anchor="middle">
<text x="167.12" y="629.6">90</text>
<text x="190.15" y="629.6">91</text>
<text x="213.18" y="629.6">92</text>
<text x="236.21" y="629.6">93</text>
<text x="259.24" y="629.6">94</text>
<text x="282.27" y="629.6">95</text>
<text x="305.3" y="629.6">96</text>
<text x="328.33" y="629.6">97</text>
<text x="351.36" y="629.6">98</text>
<text x="374.39" y="629.6">99</text>
<text x="397.43" y="629.6">00</text>
<text x="420.46" y="629.6">01</text>
<text x="443.49" y="629.6">02</text>
<text x="466.52" y="629.6">03</text>
<text x="489.55" y="629.6">04</text>
<text x="512.58" y="629.6">05</text>
<text x="535.61" y="629.6">06</text>
<text x="558.64" y="629.6">07</text>
<text x="581.67" y="629.6">08</text>
<text x="604.71" y="629.6">09</text>
<text x="627.74" y="629.6">10</text>
<text x="650.77" y="629.6">11</text>
<text x="673.8" y="629.6">12</text>
<text x="696.83" y="629.6">13</text>
<text x="719.86" y="629.6">14</text>
<text x="742.89" y="629.6">15</text>
<text x="765.92" y="629.6">16</text>
<text x="788.95" y="629.6">17</text>
<text x="811.98" y="629.6">18</text>
</g>
<text transform="translate(27.4 335.6) rotate(-90)" font-size="19.6" class="b" fill="#ff0000" text-anchor="middle">Oil production, 1,000 barrels / month</text>
<text transform="translate(923.5 330.7) rotate(90)" font-size="22.7" class="b" fill="#0000ff" text-anchor="middle">Oil rig count</text>
</svg></body></html>
